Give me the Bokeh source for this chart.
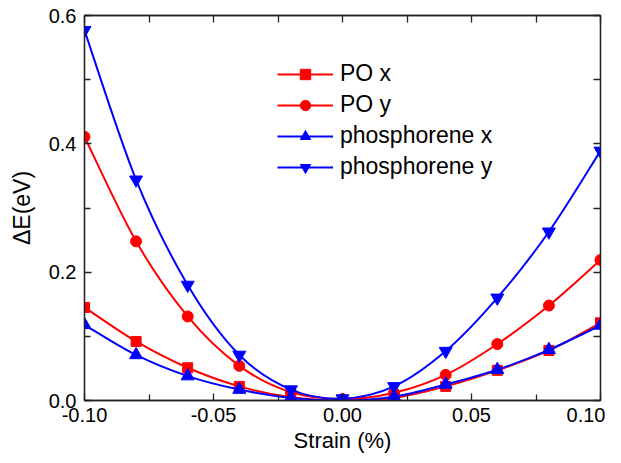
import numpy as np
from bokeh.plotting import figure
from bokeh.models import (LinearAxis, FixedTicker, Legend, LegendItem,
                          ColumnDataSource, Range1d)
from bokeh.embed import file_html
from bokeh.resources import INLINE

# ---- data ----
strain = [-0.10, -0.08, -0.06, -0.04, -0.02, 0.0, 0.02, 0.04, 0.06, 0.08, 0.10]
po_x = [0.145, 0.092, 0.051, 0.022, 0.005, 0.0, 0.004, 0.022, 0.047, 0.078, 0.121]
po_y = [0.411, 0.248, 0.131, 0.054, 0.013, 0.002, 0.012, 0.040, 0.088, 0.148, 0.219]
ph_x = [0.118, 0.071, 0.038, 0.017, 0.004, 0.0, 0.006, 0.025, 0.048, 0.079, 0.117]
ph_y = [0.577, 0.344, 0.180, 0.071, 0.017, 0.003, 0.022, 0.077, 0.160, 0.263, 0.389]

x_ticks = [-0.10, -0.05, 0.0, 0.05, 0.10]
x_minor = [-0.075, -0.025, 0.025, 0.075]
y_ticks = [0.0, 0.2, 0.4, 0.6]
y_minor = [0.1, 0.3, 0.5]

FONT = "Liberation Sans"

p = figure(width=605, height=455, output_backend="svg", toolbar_location=None,
           x_range=Range1d(-0.1, 0.1), y_range=Range1d(0.0, 0.6),
           min_border_left=84, min_border_right=5, min_border_top=15,
           min_border_bottom=42)
p.xgrid.visible = False
p.ygrid.visible = False
p.outline_line_color = "#222222"
p.outline_line_width = 1.3
p.background_fill_color = "white"
p.border_fill_color = "white"


def style_axis(ax):
    ax.major_tick_in = 7
    ax.major_tick_out = 0
    ax.minor_tick_in = 6
    ax.minor_tick_out = 0
    ax.axis_line_color = "#222222"
    ax.axis_line_width = 1.3
    ax.major_tick_line_color = "#222222"
    ax.major_tick_line_width = 1.3
    ax.minor_tick_line_color = "#222222"
    ax.minor_tick_line_width = 1.3
    ax.major_label_text_font = FONT
    ax.major_label_text_color = "black"
    ax.major_label_text_font_size = "20px"


xa = p.xaxis[0]
ya = p.yaxis[0]
style_axis(xa)
style_axis(ya)
xa.ticker = FixedTicker(ticks=x_ticks, minor_ticks=x_minor)
ya.ticker = FixedTicker(ticks=y_ticks, minor_ticks=y_minor)
xa.major_label_overrides = {-0.1: "-0.10", 0.0: "0.00", 0.05: "0.05", -0.05: "-0.05", 0.1: "0.10"}
ya.major_label_overrides = {0.0: "0.0", 0.2: "0.2", 0.4: "0.4", 0.6: "0.6"}
xa.major_label_standoff = 7
ya.major_label_standoff = 8
xa.axis_label = "Strain (%)"
ya.axis_label = "\u0394E(eV)"
for ax in (xa, ya):
    ax.axis_label_text_font = FONT
    ax.axis_label_text_font_size = "22px"
    ax.axis_label_text_font_style = "normal"
    ax.axis_label_text_color = "black"
ya.axis_label_text_font_size = "23px"
xa.axis_label_standoff = 3
ya.axis_label_standoff = 11

# top / right axes: ticks only (all drawn as minor ticks, so no labels)
top = LinearAxis()
style_axis(top)
top.ticker = FixedTicker(ticks=[], minor_ticks=x_ticks + x_minor)
top.minor_tick_in = 7
right = LinearAxis()
style_axis(right)
right.ticker = FixedTicker(ticks=[], minor_ticks=y_ticks + y_minor)
right.minor_tick_in = 7
p.add_layout(top, "above")
p.add_layout(right, "right")


def bezier_source(xs, ys):
    xs = np.asarray(xs, float)
    ys = np.asarray(ys, float)
    n = len(xs)
    px = np.concatenate([[xs[0]], xs, [xs[-1]]])
    py = np.concatenate([[ys[0]], ys, [ys[-1]]])
    x0, y0, x1, y1, cx0, cy0, cx1, cy1 = ([] for _ in range(8))
    for i in range(n - 1):
        j = i + 1
        x0.append(px[j]); y0.append(py[j])
        x1.append(px[j + 1]); y1.append(py[j + 1])
        cx0.append(px[j] + (px[j + 1] - px[j - 1]) / 6.0)
        cy0.append(py[j] + (py[j + 1] - py[j - 1]) / 6.0)
        cx1.append(px[j + 1] - (px[j + 2] - px[j]) / 6.0)
        cy1.append(py[j + 1] - (py[j + 2] - py[j]) / 6.0)
    return ColumnDataSource(dict(x0=x0, y0=y0, x1=x1, y1=y1,
                                 cx0=cx0, cy0=cy0, cx1=cx1, cy1=cy1))


series = [
    ("PO x", po_x, "#FF0000", "square", 10),
    ("PO y", po_y, "#FF0000", "circle", 11),
    ("phosphorene x", ph_x, "#0000FF", "triangle", 13),
    ("phosphorene y", ph_y, "#0000FF", "inverted_triangle", 13),
]

items = []
for name, ys, color, marker, size in series:
    src = bezier_source(strain, ys)
    p.bezier(x0="x0", y0="y0", x1="x1", y1="y1", cx0="cx0", cy0="cy0",
             cx1="cx1", cy1="cy1", source=src, line_color=color, line_width=2)
    # line renderer used only for the legend swatch (NaN -> nothing drawn in plot)
    lr = p.line(x=[float("nan")], y=[float("nan")], line_color=color, line_width=2)
    sr = p.scatter(x=strain, y=ys, marker=marker, size=size,
                   fill_color=color, line_color=color)
    items.append(LegendItem(label=name, renderers=[lr, sr]))

legend = Legend(items=items, location=(193, 220))
legend.border_line_color = None
legend.background_fill_alpha = 0
legend.padding = 0
legend.margin = 0
legend.spacing = 4
legend.glyph_width = 56
legend.glyph_height = 26
legend.label_height = 26
legend.label_standoff = 7
legend.label_text_font = FONT
legend.label_text_font_size = "23px"
legend.label_text_color = "black"
p.add_layout(legend, "center")

open("out.html", "w").write(file_html(p, INLINE))
